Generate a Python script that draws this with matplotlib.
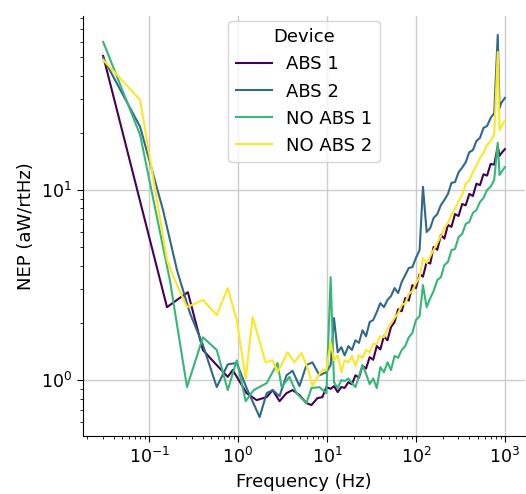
import matplotlib
matplotlib.use("Agg")
import matplotlib.pyplot as plt
import numpy as np

# Shared high-frequency grid (Hz)
f_high = [11.0, 12.0, 13.2, 14.5, 15.8, 17.4, 19.1, 20.9, 22.9, 25.1, 27.5, 30.2, 33.1, 36.3,
          39.8, 43.7, 47.9, 52.5, 57.5, 63.1, 69.2, 75.9, 83.2, 91.2, 100, 110, 120, 132, 145,
          158, 174, 191, 209, 229, 251, 275, 302, 331, 363, 398, 437, 479, 525, 575, 631, 692,
          759, 832, 871, 912, 1000]

# ABS 1
abs1_f_low = [0.0305, 0.159, 0.273, 0.403, 0.548, 0.767, 0.872, 1.25, 1.62, 2.10, 2.45, 2.93,
              3.51, 4.10, 4.91, 5.88, 6.69, 7.81, 8.89, 9.85]
abs1_v_low = [50.7, 2.42, 2.90, 1.44, 1.23, 1.04, 1.13, 0.854, 0.785, 0.814, 0.886, 0.775,
              0.854, 0.886, 0.834, 0.757, 0.739, 0.804, 0.814, 0.919]
abs1_v_high = [0.90, 0.93, 0.865, 0.92, 0.91, 0.975, 0.95, 1.06, 1.03, 1.19, 1.15, 1.32, 1.28,
               1.51, 1.45, 1.70, 1.62, 1.90, 2.02, 2.36, 2.30, 2.70, 2.62, 3.16, 3.05, 3.61,
               3.50, 4.18, 4.10, 5.01, 4.85, 5.80, 5.55, 6.55, 6.40, 7.47, 7.30, 8.44, 8.30,
               9.53, 9.30, 10.8, 10.6, 12.1, 11.9, 13.7, 13.6, 17.0, 15.1, 15.6, 16.4]

# ABS 2
abs2_f_low = [0.0305, 0.0793, 0.1435, 0.206, 0.288, 0.403, 0.577, 0.767, 0.967, 1.25, 1.75,
              2.10, 2.45, 2.93, 3.51, 4.10, 4.91, 5.88, 6.86, 8.22, 9.85]
abs2_v_low = [49.5, 21.5, 7.85, 3.79, 2.25, 1.53, 0.919, 1.21, 1.23, 0.908, 0.639, 0.854,
              0.886, 0.824, 1.06, 1.12, 0.930, 1.20, 1.24, 1.06, 1.10]
abs2_v_high = [1.20, 2.12, 1.40, 1.49, 1.35, 1.51, 1.44, 1.62, 1.57, 1.83, 1.70, 2.02, 2.07,
               2.28, 2.54, 2.42, 2.64, 2.77, 3.05, 2.87, 3.28, 3.57, 3.89, 3.93, 4.39, 4.83,
               10.4, 6.01, 6.31, 7.12, 7.47, 8.34, 8.86, 9.53, 10.9, 11.0, 12.4, 13.1, 14.0,
               15.8, 16.2, 18.1, 18.8, 21.2, 21.7, 23.9, 25.4, 65.4, 27.0, 28.7, 30.5]

# NO ABS 1
noabs1_f_low = [0.0305, 0.0793, 0.172, 0.267, 0.403, 0.577, 0.767, 0.967, 1.22, 1.50, 2.10,
                2.78, 3.09, 3.79, 4.54, 5.88, 6.69, 8.22, 9.85]
noabs1_v_low = [60.1, 19.5, 3.32, 0.919, 1.68, 1.44, 0.886, 1.27, 0.775, 0.886, 0.964, 1.23,
                0.919, 1.04, 0.854, 0.757, 0.908, 0.919, 0.854]
noabs1_v_high = [3.48, 0.976, 0.908, 1.00, 0.988, 1.02, 0.964, 0.919, 1.05, 1.20, 1.08, 0.953,
                 1.02, 0.908, 1.17, 1.10, 1.24, 1.13, 1.34, 1.31, 1.44, 1.51, 1.68, 1.77, 2.07,
                 2.17, 3.16, 2.42, 2.70, 2.94, 3.36, 3.48, 4.03, 4.18, 4.83, 4.89, 5.66, 5.87,
                 6.62, 6.79, 7.57, 7.85, 8.65, 9.08, 10.0, 10.4, 11.3, 17.7, 12.0, 12.4, 13.2]

# NO ABS 2
noabs2_f_low = [0.0305, 0.0793, 0.159, 0.195, 0.267, 0.403, 0.577, 0.767, 0.967, 1.22, 1.46,
                2.04, 2.45, 2.78, 3.60, 4.31, 5.17, 6.19, 6.87, 7.81, 8.89, 9.85]
noabs2_v_low = [48.3, 29.8, 4.28, 3.36, 2.42, 2.64, 2.20, 3.05, 2.07, 1.02, 2.15, 1.24, 1.27,
                1.10, 1.40, 1.24, 1.39, 1.13, 0.930, 1.04, 1.13, 1.13]
noabs2_v_high = [1.58, 1.27, 1.35, 1.10, 1.27, 1.24, 1.34, 1.19, 1.35, 1.31, 1.44, 1.40, 1.55,
                 1.55, 1.70, 1.68, 1.86, 1.99, 2.12, 2.25, 2.48, 2.54, 2.84, 2.94, 3.24, 3.48,
                 4.39, 4.13, 4.49, 4.83, 5.26, 5.73, 6.31, 6.71, 7.39, 7.94, 8.75, 9.41, 10.8,
                 11.2, 12.4, 13.4, 14.7, 15.7, 17.3, 18.1, 19.5, 53.2, 20.7, 21.7, 23.1]

labels = ["ABS 1", "ABS 2", "NO ABS 1", "NO ABS 2"]
series = [
    (abs1_f_low, abs1_v_low, abs1_v_high),
    (abs2_f_low, abs2_v_low, abs2_v_high),
    (noabs1_f_low, noabs1_v_low, noabs1_v_high),
    (noabs2_f_low, noabs2_v_low, noabs2_v_high),
]
colors = [plt.get_cmap("viridis")(t) for t in np.linspace(0, 1, 4)]

plt.rcParams.update({
    "xtick.labelsize": 12.5,
    "ytick.labelsize": 12.5,
    "axes.labelsize": 13,
    "legend.fontsize": 13,
    "legend.title_fontsize": 13,
    "xtick.major.size": 4.5,
    "ytick.major.size": 4.5,
    "xtick.minor.size": 2.5,
    "ytick.minor.size": 2.5,
})

fig = plt.figure(figsize=(5.26, 4.94), dpi=100)
ax = fig.add_subplot(111)
fig.subplots_adjust(left=0.158, right=0.998, bottom=0.117, top=0.968)

for (fl, vl, vh), lab, c in zip(series, labels, colors):
    f = list(fl) + list(f_high)
    v = list(vl) + list(vh)
    ax.plot(f, v, color=c, lw=1.5, label=lab)

ax.set_xscale("log")
ax.set_yscale("log")
ax.set_axisbelow(True)
ax.grid(True, which="major", color="#cccccc", linewidth=1.0)
for s in ("top", "right"):
    ax.spines[s].set_visible(False)
ax.set_xlabel("Frequency (Hz)")
ax.set_ylabel("NEP (aW/rtHz)")
ax.legend(title="Device", loc="upper center", borderaxespad=0.3)

fig.savefig("out.png", dpi=100)
